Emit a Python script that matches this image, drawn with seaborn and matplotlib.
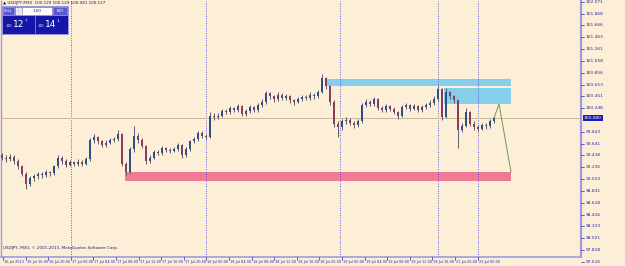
import matplotlib
matplotlib.use("Agg")
import matplotlib.pyplot as plt
import seaborn as sns
import pandas as pd
from matplotlib.patches import Rectangle

# ---------------- data ----------------
opens = [99.45, 99.40, 99.38, 99.42, 99.35, 99.25, 99.12, 98.95, 99.05, 99.08,
         99.12, 99.10, 99.15, 99.13, 99.25, 99.40, 99.35, 99.28, 99.32, 99.29,
         99.33, 99.30, 99.38, 99.70, 99.75, 99.68, 99.62, 99.66, 99.70, 99.72,
         99.80, 99.30, 99.15, 99.55, 99.78, 99.70, 99.60, 99.35, 99.40, 99.50,
         99.48, 99.56, 99.54, 99.52, 99.55, 99.62, 99.45, 99.55, 99.68, 99.72,
         99.82, 99.78, 99.76, 100.12, 100.10, 100.12, 100.20, 100.18, 100.25, 100.22,
         100.28, 100.15, 100.20, 100.26, 100.22, 100.30, 100.35, 100.50, 100.45, 100.40,
         100.48, 100.42, 100.45, 100.38, 100.36, 100.40, 100.44, 100.42, 100.48, 100.45,
         100.52, 100.76, 100.62, 100.35, 99.98, 99.92, 100.02, 100.05, 100.00, 99.96,
         100.02, 100.30, 100.36, 100.32, 100.40, 100.25, 100.22, 100.28, 100.24, 100.18,
         100.12, 100.26, 100.30, 100.24, 100.28, 100.22, 100.26, 100.30, 100.34, 100.40,
         100.58, 100.10, 100.52, 100.45, 100.38, 99.88, 99.95, 100.18, 99.98, 99.92,
         99.90, 99.96, 99.94, 100.02]
closes = [99.40, 99.38, 99.42, 99.35, 99.25, 99.12, 98.95, 99.05, 99.08, 99.12,
          99.10, 99.15, 99.13, 99.25, 99.40, 99.35, 99.28, 99.32, 99.29, 99.33,
          99.30, 99.38, 99.70, 99.75, 99.68, 99.62, 99.66, 99.70, 99.72, 99.80,
          99.30, 99.15, 99.55, 99.78, 99.70, 99.60, 99.35, 99.40, 99.50, 99.48,
          99.56, 99.54, 99.52, 99.55, 99.62, 99.45, 99.55, 99.68, 99.72, 99.82,
          99.78, 99.76, 100.12, 100.10, 100.12, 100.20, 100.18, 100.25, 100.22, 100.28,
          100.15, 100.20, 100.26, 100.22, 100.30, 100.35, 100.50, 100.45, 100.40, 100.48,
          100.42, 100.45, 100.38, 100.36, 100.40, 100.44, 100.42, 100.48, 100.45, 100.52,
          100.76, 100.62, 100.35, 99.98, 99.92, 100.02, 100.05, 100.00, 99.96, 100.02,
          100.30, 100.36, 100.32, 100.40, 100.25, 100.22, 100.28, 100.24, 100.18, 100.12,
          100.26, 100.30, 100.24, 100.28, 100.22, 100.26, 100.30, 100.34, 100.40, 100.58,
          100.10, 100.52, 100.45, 100.38, 99.88, 99.95, 100.18, 99.98, 99.92, 99.90,
          99.96, 99.94, 100.02, 100.08]
highs = [99.48, 99.44, 99.46, 99.45, 99.37, 99.28, 99.15, 99.08, 99.12, 99.16,
         99.15, 99.19, 99.18, 99.28, 99.45, 99.43, 99.37, 99.36, 99.35, 99.37,
         99.36, 99.42, 99.74, 99.80, 99.77, 99.70, 99.70, 99.73, 99.76, 99.88,
         99.82, 99.33, 99.58, 99.95, 99.82, 99.73, 99.62, 99.45, 99.54, 99.53,
         99.60, 99.58, 99.57, 99.59, 99.66, 99.64, 99.58, 99.71, 99.76, 99.86,
         99.85, 99.80, 100.18, 100.16, 100.16, 100.24, 100.23, 100.29, 100.27, 100.32,
         100.30, 100.24, 100.30, 100.28, 100.34, 100.40, 100.55, 100.53, 100.48, 100.52,
         100.50, 100.49, 100.47, 100.41, 100.44, 100.48, 100.47, 100.52, 100.50, 100.56,
         100.84, 100.79, 100.64, 100.38, 100.02, 100.06, 100.09, 100.08, 100.03, 100.06,
         100.34, 100.40, 100.39, 100.44, 100.42, 100.28, 100.32, 100.30, 100.26, 100.20,
         100.30, 100.34, 100.32, 100.32, 100.30, 100.30, 100.34, 100.38, 100.45, 100.62,
         100.60, 100.60, 100.55, 100.48, 100.40, 100.00, 100.25, 100.20, 100.02, 99.96,
         100.00, 99.99, 100.06, 100.12]
lows = [99.36, 99.33, 99.34, 99.30, 99.20, 99.08, 98.86, 98.92, 99.00, 99.04,
        99.05, 99.07, 99.08, 99.10, 99.22, 99.30, 99.24, 99.25, 99.25, 99.26,
        99.26, 99.27, 99.35, 99.66, 99.64, 99.58, 99.59, 99.63, 99.67, 99.69,
        99.25, 99.10, 99.12, 99.50, 99.66, 99.56, 99.30, 99.31, 99.37, 99.44,
        99.45, 99.50, 99.48, 99.49, 99.52, 99.40, 99.42, 99.52, 99.65, 99.69,
        99.74, 99.72, 99.74, 100.05, 100.06, 100.09, 100.14, 100.15, 100.18, 100.19,
        100.11, 100.12, 100.17, 100.18, 100.19, 100.27, 100.32, 100.41, 100.36, 100.37,
        100.38, 100.39, 100.34, 100.31, 100.33, 100.37, 100.38, 100.39, 100.41, 100.42,
        100.50, 100.58, 100.30, 99.92, 99.75, 99.88, 99.98, 99.96, 99.91, 99.93,
        99.99, 100.27, 100.28, 100.29, 100.21, 100.18, 100.19, 100.20, 100.14, 100.06,
        100.10, 100.23, 100.20, 100.21, 100.18, 100.19, 100.23, 100.27, 100.31, 100.37,
        100.05, 100.08, 100.41, 100.34, 99.57, 99.84, 99.92, 99.94, 99.88, 99.85,
        99.87, 99.90, 99.91, 99.99]

# zones (candle-index start/end, price low/high)
supply_zone_1 = dict(x0=81.0, x1=127.25, y0=100.63, y1=100.75)
supply_zone_2 = dict(x0=110.5, x1=127.25, y0=100.32, y1=100.59)
demand_zone = dict(x0=30.75, x1=127.25, y0=99.00, y1=99.155)

proj_x = [123.0, 124.25, 127.25]
proj_y = [100.08, 100.32, 99.155]

day_separators = [17.25, 51.0, 84.5, 109.0, 119.0]
current_price = 100.08
current_label = "100.080"

price_labels = ["102.071", "101.868", "101.666", "101.463", "101.261", "101.058",
                "100.856", "100.653", "100.451", "100.248", "", "99.843",
                "99.641", "99.438", "99.236", "99.033", "98.831", "98.628",
                "98.426", "98.223", "98.021", "97.818", "97.616"]

time_labels = ["16 Jul 2013", "16 Jul 16:00", "16 Jul 20:00", "17 Jul 00:00",
               "17 Jul 04:00", "17 Jul 08:00", "17 Jul 12:00", "17 Jul 16:00",
               "17 Jul 20:00", "18 Jul 00:00", "18 Jul 04:00", "18 Jul 08:00",
               "18 Jul 12:00", "18 Jul 16:00", "18 Jul 20:00", "19 Jul 00:00",
               "19 Jul 04:00", "19 Jul 08:00", "19 Jul 12:00", "19 Jul 16:00",
               "21 Jul 20:00", "22 Jul 00:00"]

# ---------------- style ----------------
sns.set_style("white")
plt.rcParams["font.family"] = ["DejaVu Sans"]

BG = "#fdefd7"
AXC = "#9c9ce6"
TXT = "#2a2aa0"
BULL = "#2a5288"
BEAR = "#8a3c5e"
WICK = "#5c5c6c"

W, H = 625, 266
fig = plt.figure(figsize=(W / 100, H / 100), dpi=100, facecolor=BG)
ax = fig.add_axes([1 / W, 9 / H, 580 / W, 256 / H], facecolor=BG)

df = pd.DataFrame({"open": opens, "close": closes, "high": highs, "low": lows})
df["idx"] = range(len(df))
df["bull"] = df["close"] >= df["open"]

# zones
for z, col in [(supply_zone_1, "#87ceeb"), (supply_zone_2, "#87ceeb"), (demand_zone, "#f07a94")]:
    ax.add_patch(Rectangle((z["x0"], z["y0"]), z["x1"] - z["x0"], z["y1"] - z["y0"],
                           facecolor=col, edgecolor="none", zorder=1))

# day separators
for d in day_separators:
    ax.axvline(d, color="#5a5ae0", lw=0.7, ls=(0, (1, 1.5)), zorder=2)

# current price line
ax.axhline(current_price, color="#c9b89a", lw=0.7, zorder=2)

# candles
ax.vlines(df["idx"], df["low"], df["high"], color=WICK, lw=0.7, zorder=3)
body = (df["close"] - df["open"]).where(lambda s: s.abs() > 0.004, 0.008)
ax.bar(df["idx"], body, bottom=df["open"], width=0.6,
       color=[BULL if b else BEAR for b in df["bull"]], edgecolor="none", zorder=4)

# projection line
sns.lineplot(x=proj_x, y=proj_y, ax=ax, color="#6f9a50", lw=0.7, zorder=5,
             estimator=None, sort=False)

ax.set_xlim(-0.25, 144.75)
ax.set_ylim(97.700, 102.083)
ax.set_xticks([])
ax.set_yticks([])
ax.spines["top"].set_visible(False)
ax.spines["left"].set_color(AXC)
ax.spines["left"].set_linewidth(1.0)
ax.spines["right"].set_color(AXC)
ax.spines["right"].set_linewidth(1.6)
ax.spines["bottom"].set_color(AXC)
ax.spines["bottom"].set_linewidth(1.2)

# ---------------- overlay in pixel coordinates ----------------
ov = fig.add_axes([0, 0, 1, 1], facecolor="none")
ov.set_xlim(0, W)
ov.set_ylim(H, 0)
ov.axis("off")

# price axis labels
for k, lab in enumerate(price_labels):
    y = 1.7 + 11.83 * k
    if not lab:
        continue
    ov.plot([581, 584], [y, y], color=TXT, lw=0.5)
    ov.text(586, y, lab, fontsize=3.2, color=TXT, va="center", ha="left")

yc = 118
ov.text(584, yc, current_label, fontsize=3.2, color="white", va="center", ha="left",
        bbox=dict(boxstyle="square,pad=0.25", fc="#1c1cb0", ec="none"))

# time labels
for k, lab in enumerate(time_labels):
    x = 3 + 22.6 * k
    ov.plot([x, x], [257, 260], color=TXT, lw=0.5)
    ov.text(x + 1.0, 262, lab, fontsize=2.5, color=TXT, va="center", ha="left")

# texts
ov.text(3, 248, "USDJPY, M30, © 2001-2013, MetaQuotes Software Corp.",
        fontsize=3.0, color="#1c1c80", va="center", ha="left")
ov.text(3, 3, "▲ USDJPY,M30  100.129 100.129 100.081 100.127",
        fontsize=3.0, color="#1c1c60", va="center", ha="left")

# one-click trading panel
ov.add_patch(Rectangle((2, 6), 66, 28, fc="#1616a8", ec="#9a9ae0", lw=0.6))
ov.add_patch(Rectangle((3, 7), 11, 8, fc="#5a5ad0", ec="#c0c0f0", lw=0.4))
ov.text(8.5, 11, "SELL", fontsize=2.6, color="white", ha="center", va="center")
ov.add_patch(Rectangle((15, 7), 7, 8, fc="#e8e8f4", ec="#a0a0c0", lw=0.4))
ov.text(18.5, 11, "-", fontsize=3.0, color="#202040", ha="center", va="center")
ov.add_patch(Rectangle((22, 7), 30, 8, fc="white", ec="#a0a0c0", lw=0.4))
ov.text(37, 11, "1.00", fontsize=3.0, color="#202040", ha="center", va="center")
ov.add_patch(Rectangle((53, 7), 14, 8, fc="#5a5ad0", ec="#c0c0f0", lw=0.4))
ov.text(60, 11, "BUY", fontsize=2.6, color="white", ha="center", va="center")
ov.plot([35, 35], [16, 33], color="#9a9ae0", lw=0.5)
ov.text(6, 26, "100", fontsize=2.4, color="white", ha="left", va="center")
ov.text(13, 24.5, "12", fontsize=6.5, color="white", ha="left", va="center")
ov.text(25, 20.5, "7", fontsize=3.2, color="white", ha="left", va="center")
ov.text(38, 26, "100", fontsize=2.4, color="white", ha="left", va="center")
ov.text(45, 24.5, "14", fontsize=6.5, color="white", ha="left", va="center")
ov.text(57, 20.5, "1", fontsize=3.2, color="white", ha="left", va="center")

fig.savefig("out.png", dpi=100, facecolor=BG)
